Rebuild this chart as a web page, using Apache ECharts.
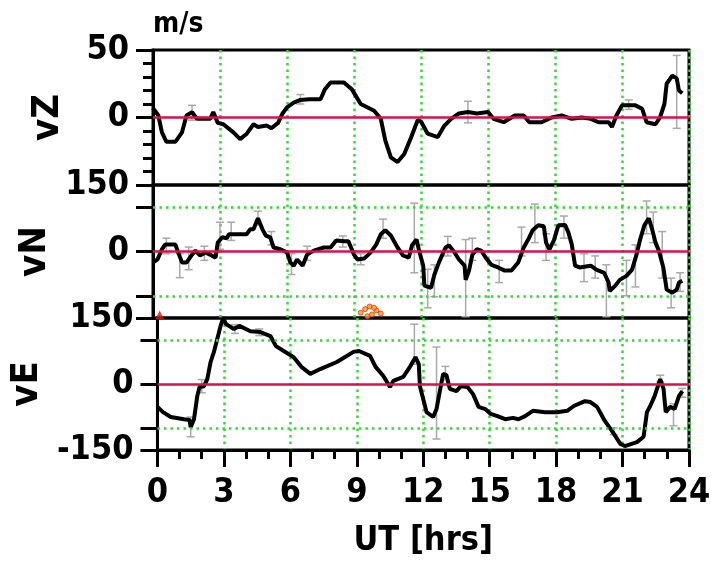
<!DOCTYPE html>
<html>
<head>
<meta charset="utf-8">
<script src="https://cdn.jsdelivr.net/npm/echarts@6/dist/echarts.min.js"></script>
<style>
  html, body { margin: 0; padding: 0; background: #fff; }
  #chart { width: 722px; height: 563px; }
</style>
</head>
<body>
<div id="chart"></div>
<script>
// Ion drift velocity components over one day, [UT hour, m/s]
const vZ = [[0,7],[0.24,1.5],[0.4,-11],[0.6,-18],[1.0,-18],[1.3,-11],[1.5,1.5],[1.75,4],[1.97,-1],[2.56,-1],[2.7,4],[2.9,-4],[3.15,-5],[3.6,-11],[3.9,-16],[4.2,-12],[4.5,-5],[4.7,-7],[5.1,-6],[5.3,-8],[5.6,-4],[5.8,3],[6.0,7.5],[6.3,11],[6.6,13],[7.0,13.5],[7.5,13.5],[7.7,21],[7.95,26],[8.55,26],[8.9,21],[9.3,10],[9.9,5],[10.2,-1],[10.4,-17],[10.65,-29.5],[10.95,-33],[11.25,-27],[11.55,-15],[11.85,-2],[12.0,-3],[12.3,-12],[12.75,-14.5],[13.05,-6],[13.35,-1],[13.7,3],[14.1,4],[14.5,3],[15.0,4],[15.25,-1],[15.7,-3.5],[16.2,1.5],[16.6,1.5],[16.85,-3.5],[17.4,-3.5],[17.85,0],[18.3,1.5],[18.75,-1],[19.2,0],[19.6,-1],[19.95,-3.5],[20.4,-3.5],[20.55,-7],[20.75,1.5],[21.0,9],[21.6,9],[21.9,6.5],[22.1,-3.5],[22.5,-5],[22.7,0],[22.9,10],[23.0,25],[23.25,31],[23.45,29],[23.55,20],[23.7,18]];

const vN = [[0,-25],[0.2,-18],[0.4,5],[0.55,16],[1.0,16],[1.1,2],[1.3,-25],[1.5,-25],[1.75,-7],[1.9,2],[2.1,-9],[2.35,-2],[2.55,-7],[2.8,-14],[2.9,20],[3.1,32],[3.3,30],[3.4,39],[4.2,39],[4.35,50],[4.5,50],[4.7,75],[4.9,50],[5.05,36],[5.25,32],[5.4,9],[5.7,5],[6.0,-2],[6.15,-25],[6.3,-32],[6.45,-18],[6.7,-32],[6.9,-7],[7.2,2],[7.65,9],[7.95,9],[8.2,25],[8.55,23],[8.75,23],[9.0,-7],[9.15,-18],[9.45,-16],[9.75,-2],[10.0,16],[10.2,39],[10.4,48],[10.65,36],[10.95,9],[11.2,-9],[11.45,-14],[11.6,14],[11.8,27],[11.9,5],[12.1,-32],[12.15,-77],[12.45,-82],[12.6,-52],[12.8,-25],[13.0,-2],[13.1,9],[13.25,14],[13.5,-2],[13.7,-18],[13.95,-32],[14.0,-64],[14.15,-43],[14.3,-7],[14.5,5],[14.7,2],[14.9,-14],[15.15,-30],[15.45,-36],[15.75,-43],[16.05,-43],[16.35,-25],[16.6,9],[16.8,27],[17.0,48],[17.25,59],[17.5,57],[17.6,20],[17.75,5],[17.95,25],[18.15,59],[18.45,60],[18.6,43],[18.75,16],[18.9,-32],[19.1,-36],[19.6,-32],[19.85,-41],[20.2,-48],[20.4,-70],[20.45,-89],[20.7,-77],[20.9,-64],[21.2,-55],[21.45,-41],[21.65,-7],[21.8,25],[22.0,59],[22.2,75],[22.35,50],[22.5,20],[22.65,2],[22.85,-36],[23.0,-86],[23.25,-93],[23.45,-86],[23.55,-70],[23.7,-66]];

const vE = [[0,-52],[0.25,-64],[0.6,-75],[1.2,-80],[1.45,-82],[1.5,-98],[1.65,-80],[1.8,-27],[1.9,-7],[2.1,-5],[2.25,11],[2.4,50],[2.55,73],[2.7,102],[2.85,132],[2.97,150],[3.1,136],[3.45,125],[3.7,132],[4.2,120],[4.65,118],[5.1,109],[5.35,86],[5.7,75],[6.15,61],[6.5,39],[6.9,23],[7.35,34],[8.1,50],[8.85,73],[9.1,75],[9.6,64],[9.85,39],[10.2,18],[10.5,-7],[10.65,7],[11.1,16],[11.4,39],[11.65,61],[11.8,45],[11.85,-5],[12.0,-34],[12.15,-64],[12.45,-75],[12.6,-57],[12.75,-16],[12.9,23],[13.05,20],[13.2,-11],[13.5,-16],[13.7,-5],[14.0,-7],[14.25,-23],[14.5,-52],[14.8,-57],[15.05,-68],[15.35,-73],[15.7,-80],[16.05,-77],[16.3,-80],[16.6,-73],[16.95,-61],[17.5,-64],[18.05,-64],[18.5,-61],[18.8,-50],[19.3,-39],[19.55,-41],[19.85,-52],[20.2,-84],[20.55,-109],[20.9,-136],[21.1,-141],[21.65,-132],[21.95,-120],[22.1,-64],[22.25,-50],[22.45,-27],[22.7,11],[22.85,-11],[22.95,-64],[23.15,-52],[23.35,-57],[23.55,-27],[23.7,-16]];

// Uncertainty ranges: [UT hour, low, high]
const vZErr = [[1.75,-2,9],[6.6,10,17],[14.1,-4,12],[21.3,6,13],[23.45,-8,46]];
const vNErr = [[0.6,-5,30],[1.2,-59,-5],[1.6,-41,10],[2.3,-20,12],[3.0,5,66],[3.5,25,66],[4.7,60,91],[5.3,15,45],[6.2,-52,-5],[6.9,-20,12],[8.5,10,35],[9.3,-30,-5],[10.3,30,73],[11.7,-48,109],[12.3,-127,-40],[12.6,-102,-30],[13.2,-10,34],[14.0,-147,27],[14.3,-20,30],[15.5,-70,-20],[16.5,-10,55],[17.1,20,107],[17.6,-20,40],[18.4,30,80],[19.3,-68,-5],[19.8,-60,-10],[20.3,-147,-30],[21.2,-100,-20],[21.6,-80,15],[22.1,40,114],[22.4,20,89],[22.8,-60,45],[23.2,-127,-60],[23.6,-90,-48]];
const vEErr = [[1.5,-120,-75],[2.0,-20,10],[3.5,115,135],[4.6,110,125],[11.6,45,136],[12.6,-125,84],[13.0,10,40],[20.6,-115,-100],[22.7,5,20],[23.3,-95,-45],[23.7,-30,-10]];

// Event markers near the bottom of the vN panel
const vNFlag = [[0.3,-143]];
const vNBurst = [[9.3,-138],[9.5,-130],[9.7,-124],[9.8,-142],[10.0,-133],[10.2,-140],[9.6,-146],[9.9,-127]];

const hourTicks = ['0','3','6','9','12','15','18','21','24'];

const FONT = "'Liberation Sans Narrow', 'DejaVu Sans Condensed', sans-serif";
const GREEN = '#2fdc2f';
const RED = '#d6124f';

const panels = [
  { name: 'vZ', data: vZ, err: vZErr, min: -50, max: 50, top: 50, height: 135 },
  { name: 'vN', data: vN, err: vNErr, min: -150, max: 150, top: 185, height: 133 },
  { name: 'vE', data: vE, err: vEErr, min: -150, max: 150, top: 318, height: 132 }
];

function errRender(params, api) {
  const lo = api.coord([api.value(0), api.value(1)]);
  const hi = api.coord([api.value(0), api.value(2)]);
  const w = 4;
  const st = { stroke: '#a9a9a9', lineWidth: 1.5 };
  return {
    type: 'group',
    children: [
      { type: 'line', shape: { x1: lo[0], y1: lo[1], x2: hi[0], y2: hi[1] }, style: st },
      { type: 'line', shape: { x1: lo[0] - w, y1: lo[1], x2: lo[0] + w, y2: lo[1] }, style: st },
      { type: 'line', shape: { x1: hi[0] - w, y1: hi[1], x2: hi[0] + w, y2: hi[1] }, style: st }
    ]
  };
}

const grid = [], xAxis = [], yAxis = [], series = [];

panels.forEach((p, i) => {
  const last = i === panels.length - 1;
  grid.push({
    left: 153, width: 536, top: p.top, height: p.height,
    show: true, borderColor: '#000', borderWidth: 3, backgroundColor: 'transparent'
  });
  xAxis.push({
    type: 'value', gridIndex: i, min: 0, max: 24, interval: 3,
    axisLine: { show: last, onZero: false, lineStyle: { color: '#000', width: 3 } },
    axisTick: { show: last, length: 17, lineStyle: { color: '#000', width: 3 } },
    minorTick: { show: last, splitNumber: 3, length: 9, lineStyle: { color: '#000', width: 3 } },
    axisLabel: {
      show: last, margin: 26, color: '#000', fontFamily: FONT, fontWeight: 'bold', fontSize: 34,
      formatter: v => hourTicks[Math.round(v / 3)]
    },
    splitLine: { show: true, lineStyle: { color: GREEN, width: 2.5, type: [2.5, 4] } },
    name: last ? 'UT [hrs]' : '',
    nameLocation: 'middle', nameGap: 74,
    nameTextStyle: { color: '#000', fontFamily: FONT, fontWeight: 'bold', fontSize: 34 }
  });
  const isZ = p.name === 'vZ';
  yAxis.push({
    type: 'value', gridIndex: i, min: p.min, max: p.max, interval: 50,
    axisLine: { show: true, lineStyle: { color: '#000', width: 3 } },
    axisTick: isZ
      ? { show: true, length: 17, lineStyle: { color: '#000', width: 3 } }
      : { show: true, length: 17, customValues: [-150, -100, 0, 100, 150], lineStyle: { color: '#000', width: 3 } },
    minorTick: { show: isZ, splitNumber: 5, length: 10, lineStyle: { color: '#000', width: 3 } },
    axisLabel: {
      show: true, margin: 24, color: '#000', fontFamily: FONT, fontWeight: 'bold', fontSize: 34,
      customValues: isZ ? [0, 50] : (last ? [-150, 0, 150] : [0, 150])
    },
    splitLine: { show: false },
    name: p.name, nameLocation: 'middle', nameRotate: 90, nameGap: 86,
    nameTextStyle: { color: '#000', fontFamily: FONT, fontWeight: 'bold', fontSize: 38 }
  });

  // reference lines: red zero line, green dotted ±100 lines
  const refLines = [{ yAxis: 0, lineStyle: { color: RED, width: 2.5, type: 'solid' } }];
  if (!isZ) {
    refLines.push({ yAxis: 100, lineStyle: { color: GREEN, width: 2.5, type: [2.5, 4] } });
    refLines.push({ yAxis: -100, lineStyle: { color: GREEN, width: 2.5, type: [2.5, 4] } });
  }
  series.push({
    type: 'line', xAxisIndex: i, yAxisIndex: i, data: [], z: 1, silent: true,
    markLine: { silent: true, symbol: 'none', label: { show: false }, animation: false, data: refLines }
  });
  series.push({
    type: 'custom', xAxisIndex: i, yAxisIndex: i, data: p.err, z: 2,
    renderItem: errRender, encode: { x: 0, y: [1, 2] }, silent: true
  });
  series.push({
    type: 'line', xAxisIndex: i, yAxisIndex: i, data: p.data, z: 3,
    showSymbol: false, lineStyle: { color: '#000', width: 4 }, silent: true
  });
});

series.push({
  type: 'scatter', xAxisIndex: 1, yAxisIndex: 1, data: vNFlag, z: 4,
  symbol: 'triangle', symbolSize: 9, itemStyle: { color: '#e0141c' }
});
series.push({
  type: 'scatter', xAxisIndex: 1, yAxisIndex: 1, data: vNBurst, z: 4,
  symbol: 'circle', symbolSize: 5, itemStyle: { color: '#f29a1a', borderColor: '#e03a10', borderWidth: 1 }
});

const chart = echarts.init(document.getElementById('chart'), null, { renderer: 'canvas' });
chart.setOption({
  animation: false,
  backgroundColor: '#fff',
  title: {
    text: 'm/s', left: 148, top: 6,
    textStyle: { color: '#000', fontFamily: FONT, fontWeight: 'bold', fontSize: 28 }
  },
  grid, xAxis, yAxis, series
});
</script>
</body>
</html>
